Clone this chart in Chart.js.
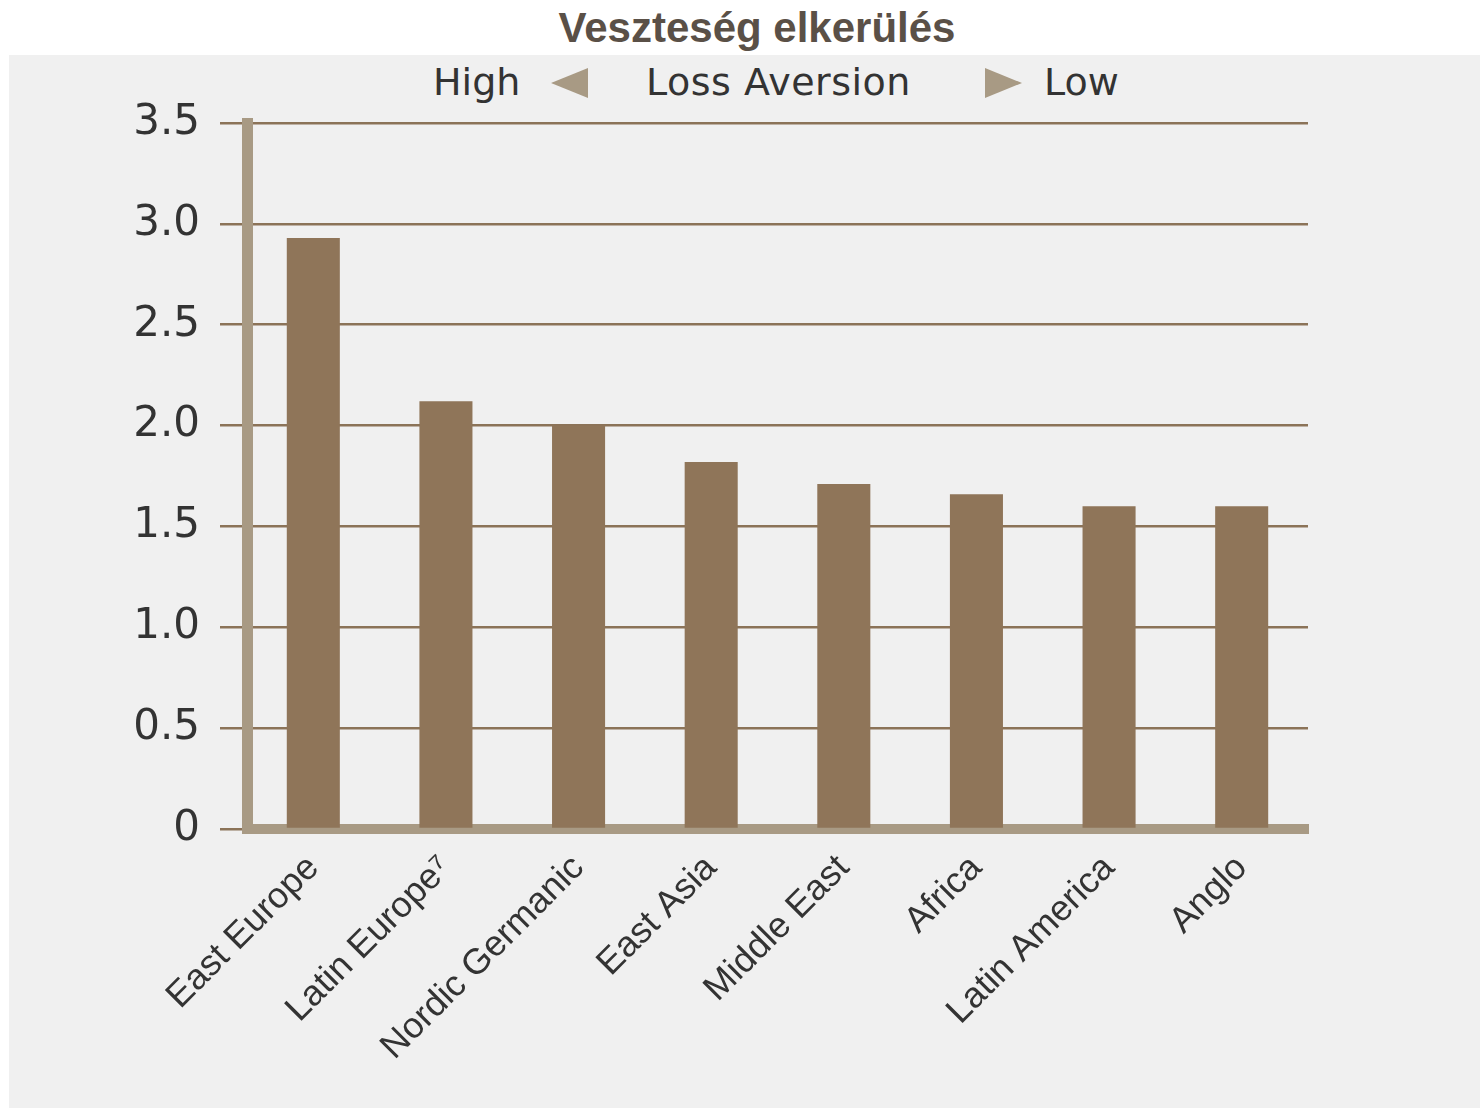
<!DOCTYPE html>
<html>
<head>
<meta charset="utf-8">
<script src="https://cdn.jsdelivr.net/npm/chart.js@4"></script>
<style>
  body { margin: 0; background: #fff; }
  #wrap { position: relative; width: 1480px; height: 1108px; overflow: hidden; }
  #panel { position: absolute; left: 9px; top: 55px; right: 0; bottom: 0; background: #f0f0f0; }
  #title { position: absolute; left: 757px; top: 4px; transform: translateX(-50%);
    font: bold 42px "Liberation Sans", Arial, sans-serif; color: #5a5047; white-space: nowrap; }
  .hdr { position: absolute; top: 60px; font: 38px "DejaVu Sans", sans-serif; color: #333; white-space: nowrap; }
  .tri { position: absolute; top: 68px; width: 0; height: 0; border-top: 15px solid transparent; border-bottom: 15px solid transparent; }
  #chart { position: absolute; left: 0; top: 0; }
</style>
</head>
<body>
<div id="wrap">
  <div id="panel"></div>
  <div id="title">Veszteség elkerülés</div>
  <span class="hdr" style="left:433px">High</span>
  <span class="tri" style="left:551px; border-right: 37px solid #a89a84;"></span>
  <span class="hdr" style="left:646px; letter-spacing: 0.5px">Loss Aversion</span>
  <span class="tri" style="left:985px; border-left: 37px solid #a89a84;"></span>
  <span class="hdr" style="left:1044px">Low</span>
  <canvas id="chart" width="1480" height="1108"></canvas>
</div>
<script>
const regions = ['East Europe', 'Latin Europe⁷', 'Nordic Germanic', 'East Asia', 'Middle East', 'Africa', 'Latin America', 'Anglo'];
const lossAversion = [2.93, 2.12, 2.0, 1.82, 1.71, 1.66, 1.60, 1.60];
const yTicks = [0, 0.5, 1.0, 1.5, 2.0, 2.5, 3.0, 3.5];

const axisColor = '#a89a84';
const gridColor = '#8b7358';

new Chart(document.getElementById('chart'), {
  type: 'bar',
  data: {
    labels: regions,
    datasets: [{
      data: lossAversion,
      backgroundColor: '#8f7559',
      categoryPercentage: 1,
      barPercentage: 0.4
    }]
  },
  options: {
    responsive: false,
    animation: false,
    layout: { padding: { left: 0, right: 172, top: 123, bottom: 0 } },
    plugins: { legend: { display: false }, tooltip: { enabled: false } },
    scales: {
      x: {
        grid: { display: false },
        border: { display: true, color: axisColor, width: 10 },
        ticks: {
          color: '#333',
          font: { family: 'Liberation Sans', size: 36 },
          minRotation: 45, maxRotation: 45, autoSkip: false, padding: 10
        },
        afterFit: s => { s.height = 1108 - 829; }
      },
      y: {
        min: 0, max: 3.5,
        grid: { color: gridColor, lineWidth: 2.5, tickLength: 27 },
        border: { display: true, color: axisColor, width: 11 },
        afterBuildTicks: s => { s.ticks = yTicks.map(v => ({ value: v })); },
        ticks: {
          color: '#333',
          font: { family: 'DejaVu Sans', size: 42 },
          padding: 20,
          callback: v => v === 0 ? '0' : v.toFixed(1)
        },
        afterFit: s => { s.width = 247; }
      }
    }
  }
});
</script>
</body>
</html>
